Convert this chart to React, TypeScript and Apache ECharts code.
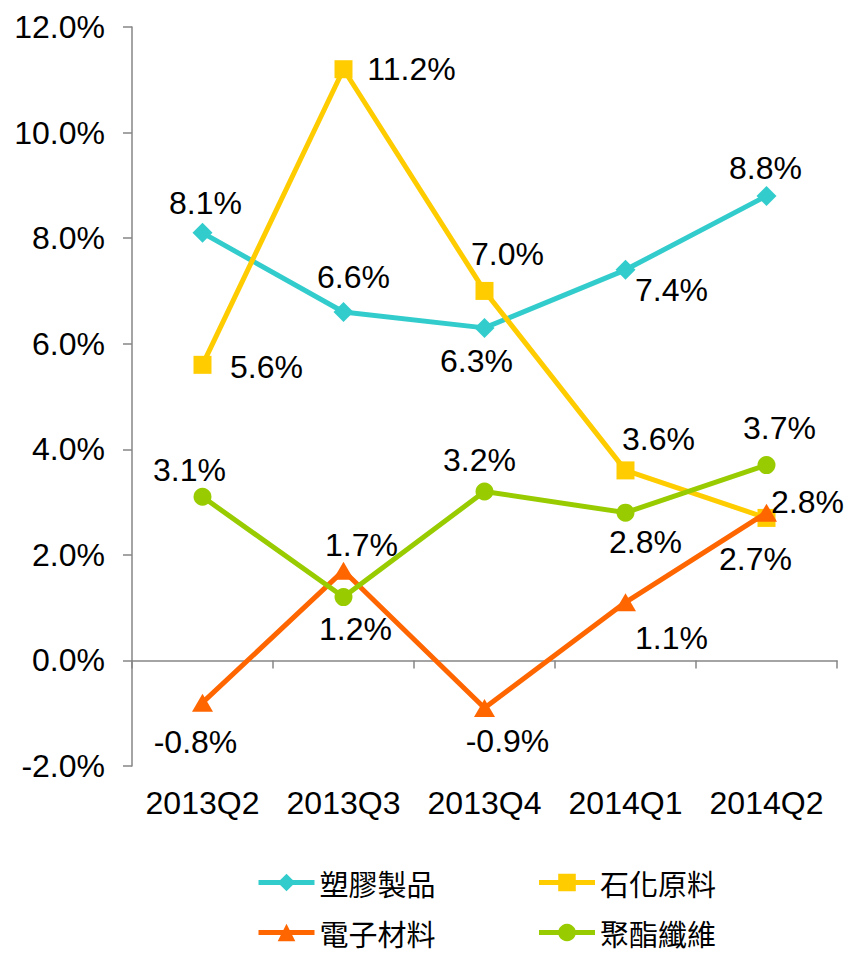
import React, { useEffect, useRef } from "react";
import * as echarts from "echarts";

const categories = ["2013Q2", "2013Q3", "2013Q4", "2014Q1", "2014Q2"];
const seriesNames = ["塑膠製品", "石化原料", "電子材料", "聚酯纖維"];
const plastics = [8.1, 6.6, 6.3, 7.4, 8.8];
const petrochem = [5.6, 11.2, 7.0, 3.6, 2.7];
const electronic = [-0.8, 1.7, -0.9, 1.1, 2.8];
const polyester = [3.1, 1.2, 3.2, 2.8, 3.7];
const yTicks = { min: -2, max: 12, interval: 2 };

// label offsets (px) relative to each point, for placement like the original
const plasticsLabelOffsets = [[3, -30], [10, -35], [-8, 33], [46, 20], [-1, -28]];
const petrochemLabelOffsets = [[64, 2], [68, 0], [23, -37], [33, -31], [-11, 41]];
const electronicLabelOffsets = [[-7, 39], [18, -26], [23, 33], [46, 36], [41, -11]];
const polyesterLabelOffsets = [[-13, -27], [12, 32], [-5, -32], [20, 29], [13, -37]];

const colors = ["#33CCCC", "#FFCC00", "#FF6600", "#99CC00"];
const symbols = ["diamond", "rect", "triangle", "circle"];
const symbolSizes = [20, 18, [21, 18], 18];

const NUM_FONT = "'Liberation Sans', Arial, sans-serif";
const CJK_FONT = "'Noto Sans CJK TC', sans-serif";

export default function App() {
  const ref = useRef<HTMLDivElement>(null);
  useEffect(() => {
    if (!ref.current) return;
    const chart = echarts.init(ref.current, null, { renderer: "svg" });
    const values = [plastics, petrochem, electronic, polyester];
    const offsets = [plasticsLabelOffsets, petrochemLabelOffsets, electronicLabelOffsets, polyesterLabelOffsets];
    const series = seriesNames.map((name, si) => ({
      name,
      type: "line",
      xAxisIndex: 0,
      yAxisIndex: 0,
      data: values[si].map((v, i) => ({
        value: v,
        label: { offset: offsets[si][i] },
      })),
      symbol: symbols[si],
      symbolSize: symbolSizes[si],
      showAllSymbol: true,
      itemStyle: { color: colors[si] },
      lineStyle: { color: colors[si], width: 5 },
      label: {
        show: true,
        position: "inside",
        formatter: (p: any) => p.value.toFixed(1) + "%",
        fontFamily: NUM_FONT,
        fontSize: 32,
        color: "#000",
      },
      emphasis: { disabled: true },
      z: 2 + si,
    }));
    const legendText = { fontFamily: CJK_FONT, fontSize: 29, lineHeight: 28, color: "#000" };
    const legendCommon = {
      left: 256,
      padding: 0,
      itemWidth: 56,
      itemHeight: 22,
      itemGap: 101,
      textStyle: legendText,
      lineStyle: { width: 5 },
      selectedMode: false,
    };
    chart.setOption({
      animation: false,
      backgroundColor: "#fff",
      grid: { left: 132, right: 13, top: 27, bottom: 188, containLabel: false },
      legend: [
        { ...legendCommon, data: [seriesNames[0], seriesNames[1]], top: 868 },
        { ...legendCommon, data: [seriesNames[2], seriesNames[3]], top: 918 },
      ],
      xAxis: [
        {
          type: "category",
          data: categories,
          position: "bottom",
          axisLine: { onZero: true, lineStyle: { color: "#868686", width: 1.5 } },
          axisTick: { show: true, length: 8, lineStyle: { color: "#868686", width: 1.5 } },
          axisLabel: { show: false },
          splitLine: { show: false },
        },
        {
          type: "category",
          data: categories,
          position: "bottom",
          axisLine: { show: false, onZero: false },
          axisTick: { show: false },
          axisLabel: { show: true, interval: 0, margin: 21, fontFamily: NUM_FONT, fontSize: 32, color: "#000" },
          splitLine: { show: false },
        },
      ],
      yAxis: {
        type: "value",
        min: yTicks.min,
        max: yTicks.max,
        interval: yTicks.interval,
        axisLine: { show: true, lineStyle: { color: "#868686", width: 1.5 } },
        axisTick: { show: true, length: 9, lineStyle: { color: "#868686", width: 1.5 } },
        axisLabel: {
          margin: 27,
          fontFamily: NUM_FONT,
          fontSize: 32,
          color: "#000",
          formatter: (v: number) => v.toFixed(1) + "%",
        },
        splitLine: { show: false },
      },
      series,
    });
    return () => chart.dispose();
  }, []);
  return <div ref={ref} style={{ width: 850, height: 954, position: "fixed", left: 0, top: 0 }} />;
}
